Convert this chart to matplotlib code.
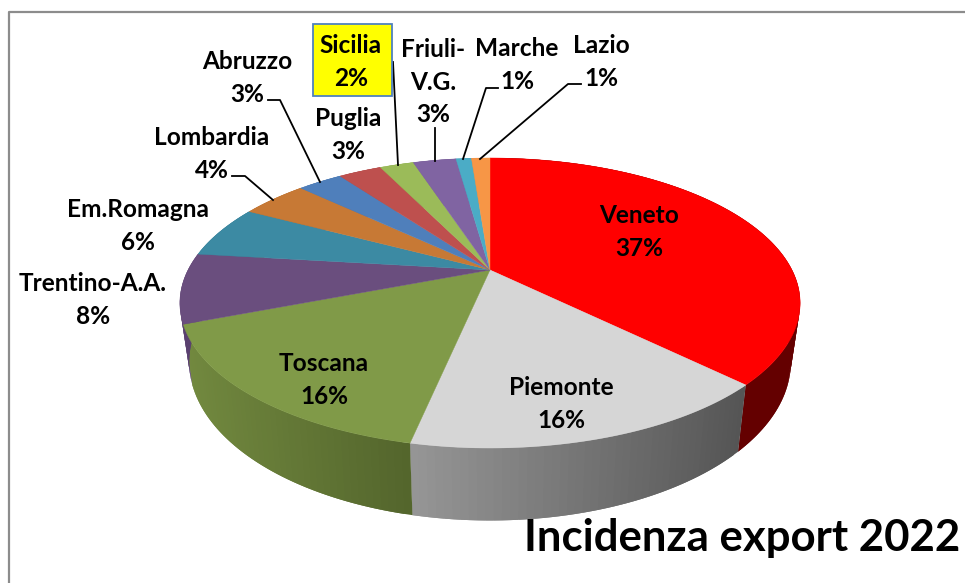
import numpy as np
import matplotlib
matplotlib.use("Agg")
import matplotlib.pyplot as plt
from matplotlib.patches import Polygon, Rectangle

regions = ["Veneto", "Piemonte", "Toscana", "Trentino-A.A.", "Em.Romagna", "Lombardia",
           "Abruzzo", "Puglia", "Sicilia", "Friuli-\nV.G.", "Marche", "Lazio"]
shares = [37.4, 15.9, 15.8, 7.8, 5.9, 4.3, 2.9, 2.8, 2.2, 2.8, 1.0, 1.2]
pct_labels = ["37%", "16%", "16%", "8%", "6%", "4%", "3%", "3%", "2%", "3%", "1%", "1%"]
colors = ["#FF0000", "#D6D6D6", "#809A48", "#6A4E7E", "#3C8AA3", "#C77935",
          "#4F7FBB", "#BE504E", "#9BBB59", "#8064A2", "#4BACC6", "#F79646"]
# side wall colours, left end and right end of each slice
side_left = ["#640000", "#969696", "#72893F", "#5A4070", "#327488", "#A8642A",
             "#406A9E", "#9E403E", "#80A048", "#6A5288", "#3C90A8", "#D07C38"]
side_right = ["#640000", "#555555", "#53652C", "#5A4070", "#327488", "#A8642A",
              "#406A9E", "#9E403E", "#80A048", "#6A5288", "#3C90A8", "#D07C38"]

# label centre, pixels
label_xy = [(639, 232), (561, 404), (324, 380), (93, 300), (138, 226), (212, 154),
            (247, 78), (348, 135), (351, 62), (433, 82), (517, 65), (601, 62)]

CX, CY = 490, 270
R, H, K = 302, 137.5, 0.2276
DEPTH, SHRINK = 56, 0.97


def project(theta, lower=False):
    # theta is clockwise from 12 o'clock, in percent of the circle
    a = np.asarray(theta) / 100 * 2 * np.pi
    u, v = np.sin(a), np.cos(a)
    w = 1 + K * v
    x = R * u / w
    y = -H * v / w
    if lower:
        return CX + SHRINK * x, CY + y + DEPTH / w
    return CX + x, CY + y


fig = plt.figure(figsize=(9.65, 5.83), dpi=100)
ax = fig.add_axes([0, 0, 1, 1])
ax.set_xlim(0, 965)
ax.set_ylim(583, 0)
ax.axis("off")

plt.rcParams["font.family"] = ["Lato", "DejaVu Sans"]

# chart frame, only top and left are in the crop
ax.plot([9, 9, 965], [583, 12, 12], color="#8C8C8C", lw=1.6, solid_capstyle="butt")

edges = np.concatenate([[0], np.cumsum(shares)])
edges = edges / edges[-1] * 100

# side walls, strips overlap the next one so no seams show
z = 2.0
for i in range(len(shares)):
    ts = np.linspace(edges[i], edges[i + 1], max(int(shares[i] * 3), 4))
    cl = np.array(matplotlib.colors.to_rgb(side_left[i]))
    cr = np.array(matplotlib.colors.to_rgb(side_right[i]))
    x0, y0 = project(ts)
    x1, y1 = project(ts, lower=True)
    xmin, xmax = x0.min(), x0.max()
    for j in range(len(ts) - 1):
        k = min(j + 2, len(ts) - 1)
        f = ((x0[j] + x0[j + 1]) / 2 - xmin) / max(xmax - xmin, 1)
        c = cl + (cr - cl) * f
        pts = [(x0[j], y0[j]), (x0[k], y0[k]), (x1[k], y1[k]), (x1[j], y1[j])]
        z += 0.001
        ax.add_patch(Polygon(pts, closed=True, fc=c, ec="none", lw=0, zorder=z))

# top surface
for i in range(len(shares)):
    ts = np.linspace(edges[i], edges[i + 1], max(int(shares[i] * 6), 6))
    x, y = project(ts)
    pts = [(CX, CY)] + list(zip(x, y))
    ax.add_patch(Polygon(pts, closed=True, fc=colors[i], ec=colors[i], lw=0.3, zorder=3))

# leader lines
leaders = {
    "Abruzzo": [(268, 100), (280, 100), (320, 182)],
    "Sicilia": [(393, 62), (398, 165)],
    "Friuli": [(435, 128), (435, 161)],
    "Marche": [(498, 88), (486, 88), (463, 159)],
    "Lazio": [(581, 84), (568, 84), (480, 159)],
    "Lombardia": [(232, 176), (245, 176), (273, 200)],
}
for pts in leaders.values():
    xs, ys = zip(*pts)
    ax.plot(xs, ys, color="black", lw=1.3, zorder=4)

# Sicilia box
ax.add_patch(Rectangle((313, 24), 79, 72, fc="#FFFF00", ec="#4F81BD", lw=1.3, zorder=4))

for name, pct, (lx, ly) in zip(regions, pct_labels, label_xy):
    ax.text(lx, ly, name + "\n" + pct, ha="center", va="center", fontsize=17.6,
            fontweight="bold", color="black", linespacing=1.5, zorder=5)

ax.text(742, 538, "Incidenza export 2022", ha="center", va="center", fontsize=31.5,
        fontweight="bold", color="black", zorder=5)

fig.savefig("out.png", dpi=100)
